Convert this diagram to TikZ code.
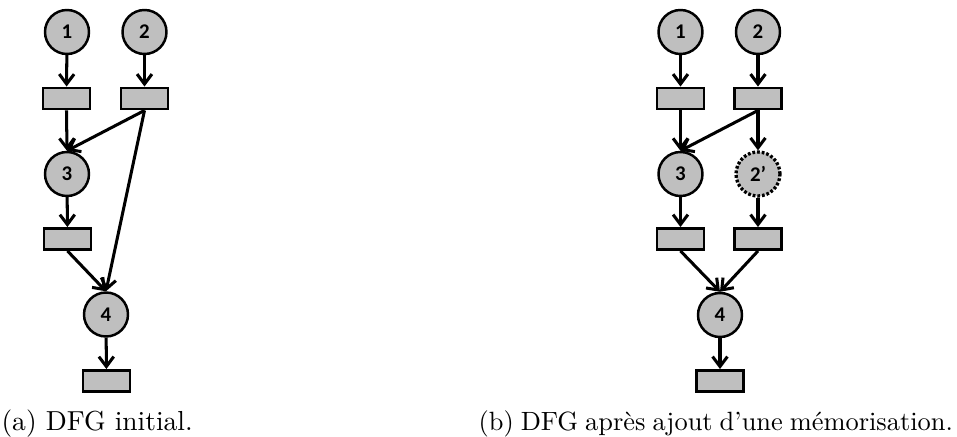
\documentclass[tikz,border=0pt]{standalone}
\usepackage{fontspec}
\newfontfamily\carl{Carlito}
\usetikzlibrary{arrows.meta}
\newcommand\mycapspace{\spaceskip=2.55pt plus 1pt minus 0.5pt\relax}
\tikzset{
  opnode/.style={circle,draw=black,fill=gray!50,line width=0.9pt,minimum size=16pt,inner sep=0pt,font=\carl\bfseries\fontsize{7.6}{8}\selectfont},
  memnode/.style={opnode,dash pattern=on 1pt off 0.7pt,line width=1.2pt},
  regbox/.style={rectangle,draw=black,fill=gray!50,line width=0.9pt,minimum width=17pt,minimum height=7.8pt,inner sep=0pt},
  flow/.style={line width=1.1pt,-{Straight Barb[length=3.6pt,width=5.4pt,line width=1.1pt]}},
  captext/.style={anchor=base west,inner sep=0pt,font=\fontsize{10}{12}\selectfont},
  captextb/.style={anchor=base west,inner sep=0pt,font=\fontsize{9.6}{12}\selectfont}
}
\begin{document}
\begin{tikzpicture}[x=0.3636pt,y=-0.3636pt]
\useasboundingbox (0,0) rectangle (957,437);
% (a)
\node[opnode] (a1) at (67,32) {1};
\node[opnode] (a2) at (144.5,32) {2};
\node[regbox] (ar1) at (66.5,98.5) {};
\node[regbox] (ar2) at (144.5,98.5) {};
\node[opnode] (a3) at (67,174) {3};
\node[regbox] (ar3) at (67.5,239) {};
\node[opnode] (a4) at (106,314.5) {4};
\node[regbox] (ar4) at (106.5,381) {};
\draw[flow] (a1) -- (ar1);
\draw[flow] (a2) -- (ar2);
\draw[flow] (ar1.south) -- (a3.north);
\draw[flow] (ar2.south) -- (a3.north);
\draw[flow] (a3) -- (ar3);
\draw[flow] (ar3.south) -- (a4.north);
\draw[flow] (ar2.south) -- (a4.north);
\draw[flow] (a4) -- (ar4);
\node[captext] (capa) at (1,430) {(a) DFG initial.};
% (b)
\node[opnode] (b1) at (680.5,32) {1};
\node[opnode] (b2) at (758,32) {2};
\node[regbox] (br1) at (680.5,98.5) {};
\node[regbox] (br2) at (758,98.5) {};
\node[opnode] (b3) at (680.5,174) {3};
\node[memnode] (b2p) at (758,174) {2’};
\node[regbox] (br3) at (680.5,239) {};
\node[regbox] (br4) at (758,239) {};
\node[opnode] (b4) at (720,315) {4};
\node[regbox] (br5) at (720,381) {};
\draw[flow] (b1) -- (br1);
\draw[flow] (b2) -- (br2);
\draw[flow] (br1.south) -- (b3.north);
\draw[flow] (br2.south) -- (b3.north);
\draw[flow] (br2) -- (b2p);
\draw[flow] (b3) -- (br3);
\draw[flow] (b2p) -- (br4);
\draw[flow] (br3.south) -- (b4.north);
\draw[flow] (br4.south) -- (b4.north);
\draw[flow] (b4) -- (br5);
\node[captextb] (capb) at (478,430) {\mycapspace(b) DFG après ajout d'une mémorisation.};
\end{tikzpicture}
\end{document}
